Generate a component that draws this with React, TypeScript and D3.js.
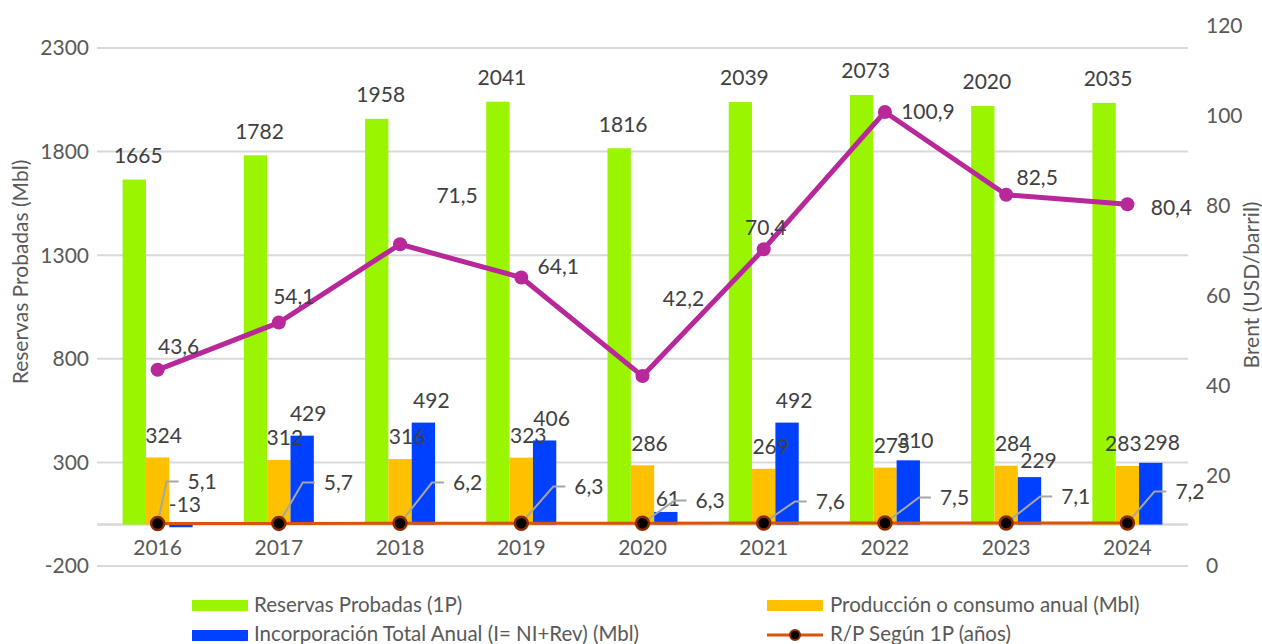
import React from "react";
import * as d3 from "d3";

const years = ["2016", "2017", "2018", "2019", "2020", "2021", "2022", "2023", "2024"];
const reservas = [1665, 1782, 1958, 2041, 1816, 2039, 2073, 2020, 2035];
const produccion = [324, 312, 316, 323, 286, 269, 275, 284, 283];
const incorporacion = [-13, 429, 492, 406, 61, 492, 310, 229, 298];
const rp = [5.1, 5.7, 6.2, 6.3, 6.3, 7.6, 7.5, 7.1, 7.2];
const brent = [43.6, 54.1, 71.5, 64.1, 42.2, 70.4, 100.9, 82.5, 80.4];
const leftTicks = [-200, 300, 800, 1300, 1800, 2300];
const rightTicks = [0, 20, 40, 60, 80, 100, 120];

// label layout (manual placements in original chart)
const brentLabelOffset: [number, number][] = [
  [21, -23], [15, -26], [57, -49], [37, -11], [41, -77], [2, -22], [43, 0], [31, -17], [44, 3],
];
const rpLabelOffset: [number, number][] = [
  [30, -43], [45, -42], [53, -42], [53, -38], [53, -24], [52, -23], [55, -27], [55, -28], [48, -33],
];
const prodLabelDx = [6, 6, 7, 7, 7, 7, 7, 7, -4];
const incLabelDx = [4, 6, 8, 7, 2, 7, 7, 9, 11];
const incLabelGap = [20, 22, 22, 22, 13, 22, 20, 16, 20];

const W = 1262;
const H = 644;
const FONT = "Lato, 'Open Sans', 'Noto Sans', sans-serif";
const FS = 21;
const FS_LEG = 20.5;
const C_GREEN = "#99F500";
const C_ORANGE = "#FFC000";
const C_BLUE = "#0040FF";
const C_PURPLE = "#B8289B";
const C_RP = "#D9530B";
const C_TICK = "#595959";
const C_LABEL = "#404040";

const fmt = (v: number) => String(v).replace(".", ",");

export default function App() {
  const x = d3.scaleBand<string>().domain(years).range([97, 1188]).padding(0);
  const sub = d3.scaleBand<string>().domain(["res", "prod", "inc"]).range([-35, 35]).padding(0);
  const yL = d3.scaleLinear().domain([-200, 2300]).range([566, 48]);
  const yR = d3.scaleLinear().domain([0, 120]).range([566, 26]);
  const cx = (i: number) => (x(years[i]) as number) + x.bandwidth() / 2;
  const bw = sub.bandwidth();

  const series = [
    { key: "res", vals: reservas, color: C_GREEN },
    { key: "prod", vals: produccion, color: C_ORANGE },
    { key: "inc", vals: incorporacion, color: C_BLUE },
  ];

  const labelDx = (key: string, i: number) =>
    key === "res" ? 4 : key === "prod" ? prodLabelDx[i] : incLabelDx[i];
  const labelGap = (key: string, i: number) =>
    key === "res" ? 24 : key === "prod" ? 22 : incLabelGap[i];

  const brentLine = d3
    .line<number>()
    .x((_, i) => cx(i))
    .y((d) => yR(d));
  const rpLine = d3
    .line<number>()
    .x((_, i) => cx(i))
    .y((d) => yL(d));

  return (
    <svg
      width={W}
      height={H}
      style={{ position: "absolute", left: 0, top: 0, display: "block", background: "#fff" }}
      fontFamily={FONT}
    >
      {/* gridlines */}
      {leftTicks.map((t) => (
        <line key={t} x1={97} x2={1188} y1={yL(t)} y2={yL(t)} stroke="#D9D9D9" strokeWidth={2} />
      ))}
      <line x1={97} x2={1188} y1={yL(0)} y2={yL(0)} stroke="#D9D9D9" strokeWidth={2.5} />

      {/* left ticks */}
      {leftTicks.map((t) => (
        <text key={t} x={89} y={yL(t)} dy="0.35em" textAnchor="end" fontSize={FS} fill={C_TICK}>
          {t}
        </text>
      ))}
      {/* right ticks */}
      {rightTicks.map((t) => (
        <text key={t} x={1206} y={yR(t)} dy="0.35em" textAnchor="start" fontSize={FS} fill={C_TICK}>
          {t}
        </text>
      ))}
      {/* axis titles */}
      <text
        transform={`translate(21,272) rotate(-90)`}
        textAnchor="middle"
        dy="0.35em"
        fontSize={FS}
        fill={C_TICK}
      >
        Reservas Probadas (Mbl)
      </text>
      <text
        transform={`translate(1252,285) rotate(-90)`}
        textAnchor="middle"
        dy="0.35em"
        fontSize={FS}
        fill={C_TICK}
      >
        Brent (USD/barril)
      </text>

      {/* bars */}
      {series.map((s) =>
        s.vals.map((v, i) => {
          const x0 = cx(i) + (sub(s.key) as number);
          const y0 = Math.min(yL(v), yL(0));
          const h = Math.max(Math.abs(yL(v) - yL(0)), 1);
          return <rect key={s.key + i} x={x0} y={y0} width={bw} height={h} fill={s.color} />;
        })
      )}

      {/* x labels */}
      {years.map((yv, i) => (
        <text key={yv} x={cx(i)} y={548} dy="0.35em" textAnchor="middle" fontSize={FS} fill={C_TICK}>
          {yv}
        </text>
      ))}

      {/* bar labels */}
      {series.map((s) =>
        s.vals.map((v, i) => {
          const bx = cx(i) + (sub(s.key) as number) + bw / 2 + labelDx(s.key, i);
          const top = Math.min(yL(v), yL(0));
          return (
            <text
              key={"l" + s.key + i}
              x={bx}
              y={top - labelGap(s.key, i)}
              dy="0.35em"
              textAnchor="middle"
              fontSize={FS}
              fill={C_LABEL}
            >
              {fmt(v)}
            </text>
          );
        })
      )}

      {/* R/P line */}
      <path d={rpLine(rp) || ""} fill="none" stroke={C_RP} strokeWidth={3} />
      {/* R/P leader lines & labels */}
      {rp.map((v, i) => {
        const px = cx(i);
        const py = yL(v);
        const lx = px + rpLabelOffset[i][0];
        const ly = yL(0) + rpLabelOffset[i][1];
        return (
          <g key={"rp" + i}>
            <polyline
              points={`${px},${py} ${lx - 21},${ly} ${lx - 9},${ly}`}
              fill="none"
              stroke="#A6A6A6"
              strokeWidth={2}
            />
            <text x={lx} y={ly} dy="0.35em" textAnchor="start" fontSize={FS} fill={C_LABEL}>
              {fmt(v)}
            </text>
          </g>
        );
      })}
      {rp.map((v, i) => (
        <circle key={"rpm" + i} cx={cx(i)} cy={yL(v)} r={6.5} fill="#000" stroke="#8B2C00" strokeWidth={2.5} />
      ))}

      {/* Brent line */}
      <path d={brentLine(brent) || ""} fill="none" stroke={C_PURPLE} strokeWidth={5} strokeLinejoin="round" />
      {brent.map((v, i) => (
        <circle key={"bm" + i} cx={cx(i)} cy={yR(v)} r={7} fill={C_PURPLE} />
      ))}
      {brent.map((v, i) => (
        <text
          key={"bl" + i}
          x={cx(i) + brentLabelOffset[i][0]}
          y={yR(v) + brentLabelOffset[i][1]}
          dy="0.35em"
          textAnchor="middle"
          fontSize={FS}
          fill={C_LABEL}
        >
          {fmt(v)}
        </text>
      ))}

      {/* legend */}
      <rect x={192} y={600} width={56} height={11} fill={C_GREEN} />
      <text x={254} y={605} dy="0.35em" fontSize={FS_LEG} fill={C_TICK}>
        Reservas Probadas (1P)
      </text>
      <rect x={192} y={630} width={56} height={11} fill={C_BLUE} />
      <text x={254} y={634} dy="0.35em" fontSize={FS_LEG} fill={C_TICK}>
        Incorporación Total Anual (I= NI+Rev) (Mbl)
      </text>
      <rect x={767} y={600} width={56} height={11} fill={C_ORANGE} />
      <text x={830} y={605} dy="0.35em" fontSize={FS_LEG} fill={C_TICK}>
        Producción o consumo anual (Mbl)
      </text>
      <line x1={767} x2={823} y1={635} y2={635} stroke={C_RP} strokeWidth={3} />
      <circle cx={795} cy={635} r={5} fill="#000" stroke="#8B2C00" strokeWidth={2} />
      <text x={830} y={634} dy="0.35em" fontSize={FS_LEG} fill={C_TICK}>
        R/P Según 1P (años)
      </text>
    </svg>
  );
}
